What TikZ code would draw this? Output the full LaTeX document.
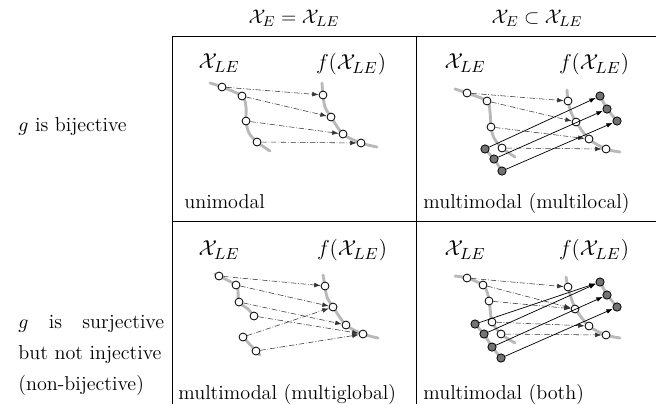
\documentclass[tikz,border=0pt]{standalone}
\usetikzlibrary{arrows.meta}
\begin{document}
\begin{tikzpicture}[x=0.5556pt,y=-0.5556pt,
  every node/.style={font=\fontsize{11.2pt}{13.5pt}\selectfont},
  tab/.style={line width=0.45pt},
  curve/.style={line width=1.6pt, gray!55, line cap=round, line join=round},
  wc/.style={circle, draw=black, fill=white, line width=0.45pt, inner sep=0pt, minimum size=4.4pt},
  gc/.style={circle, draw=black, fill=black!55, line width=0.45pt, inner sep=0pt, minimum size=4.6pt},
  da/.style={densely dash dot, line width=0.3pt, black!80, -{Latex[length=3.6pt,width=2.6pt]}},
  sa/.style={line width=0.4pt, black, -{Latex[length=3.6pt,width=2.6pt]}},
  lab/.style={font=\fontsize{13.2pt}{15pt}\selectfont, inner sep=0pt},
  txt/.style={anchor=base west, inner sep=0pt}
]
\useasboundingbox (0,0) rectangle (656,404);
% table
\draw[tab] (172,36) -- (656,36);
\draw[tab] (172,221) -- (656,221);
\draw[tab] (172,36) -- (172,404);
\draw[tab] (416,36) -- (416,404);
% headers
\node[anchor=base, inner sep=0pt] (h1) at (294,23) {$\mathcal{X}_E=\mathcal{X}_{LE}$};
\node[anchor=base, inner sep=0pt] (h2) at (537,23) {$\mathcal{X}_E\subset\mathcal{X}_{LE}$};
% row labels
\node[txt] (r1) at (18,131) {$g$ is bijective};
\node[txt] (r2a) at (18,328) {\makebox[81pt][s]{$g$ is surjective}};
\node[txt] (r2b) at (18,359) {but not injective};
\node[txt] (r2c) at (18,390) {(non-bijective)};
% cell labels
\node[txt] (t1) at (184,208) {unimodal};
\node[txt] (t2) at (423,208) {multimodal (multilocal)};
\node[txt] (t3) at (178,399) {multimodal (multiglobal)};
\node[txt] (t4) at (423,399) {multimodal (both)};

% ---------- cell 1 ----------
\node[lab] (a-x) at (219,63) {$\mathcal{X}_{LE}$};
\node[lab] (a-f) at (351,64) {$f(\mathcal{X}_{LE})$};
\draw[curve] plot[smooth] coordinates {(210,83) (222,87) (242,96) (246,107) (246,121) (249,133) (257,142) (270,151)};
\draw[curve] plot[smooth] coordinates {(322,83) (323,95) (325,107) (331,117) (343,134) (361,143) (377,147)};
\foreach \n/\x/\y in {1/222/87,2/242/96,3/246/121,4/257/142} \node[wc] (a-l\n) at (\x,\y) {};
\foreach \n/\x/\y in {1/323/95,2/331/117,3/343/134,4/361/143} \node[wc] (a-r\n) at (\x,\y) {};
\foreach \n in {1,2,3,4} \draw[da] (a-l\n) -- (a-r\n);

% ---------- cell 2 ----------
\node[lab] (b-x) at (465,63) {$\mathcal{X}_{LE}$};
\node[lab] (b-f) at (594,64) {$f(\mathcal{X}_{LE})$};
\draw[curve] plot[smooth] coordinates {(455,89) (467,93) (487,101) (490,112) (491,127) (494,138) (502,148) (515,157)};
\draw[curve] plot[smooth] coordinates {(567,90) (568,101) (571,112) (576,122) (589,139) (606,149) (620,152)};
\draw[curve] (485,149) -- (494,159) -- (502,171);
\draw[curve] (600,96) -- (607,109) -- (617,121);
\foreach \n/\x/\y in {1/467/93,2/487/101,3/491/127,4/502/148} \node[wc] (b-l\n) at (\x,\y) {};
\foreach \n/\x/\y in {1/568/101,2/576/122,3/589/139,4/606/149} \node[wc] (b-r\n) at (\x,\y) {};
\foreach \n/\x/\y in {1/485/149,2/494/159,3/502/171} \node[gc] (b-g\n) at (\x,\y) {};
\foreach \n/\x/\y in {1/600/96,2/607/109,3/617/121} \node[gc] (b-h\n) at (\x,\y) {};
\foreach \n in {1,2,3,4} \draw[da] (b-l\n) -- (b-r\n);
\foreach \n in {1,2,3} \draw[sa] (b-g\n) -- (b-h\n);

% ---------- cell 3 ----------
\node[lab] (c-x) at (219,250) {$\mathcal{X}_{LE}$};
\node[lab] (c-f) at (352,250) {$f(\mathcal{X}_{LE})$};
\draw[curve] plot[smooth] coordinates {(215,274) (219,276) (236,285) (238,292) (239,302) (248,309) (254,316)};
\draw[curve] plot[smooth] coordinates {(243,337) (256,351) (260,355)};
\draw[curve] plot[smooth] coordinates {(323,275) (325,286) (327,297) (333,307) (346,325) (363,334) (378,338)};
\foreach \n/\x/\y in {1/219/276,2/236/285,3/239/302,4/254/316,5/243/337,6/256/351} \node[wc] (c-l\n) at (\x,\y) {};
\foreach \n/\x/\y in {1/325/286,2/333/307,3/346/325,4/363/334} \node[wc] (c-r\n) at (\x,\y) {};
\foreach \a/\b in {1/1,2/2,3/3,4/4,5/2,6/4} \draw[da] (c-l\a) -- (c-r\b);

% ---------- cell 4 ----------
\node[lab] (d-x) at (465,250) {$\mathcal{X}_{LE}$};
\node[lab] (d-f) at (594,250) {$f(\mathcal{X}_{LE})$};
\draw[curve] plot[smooth] coordinates {(455,276) (467,278) (483,285) (488,295) (490,308) (492,322) (501,334) (515,343)};
\draw[curve] plot[smooth] coordinates {(566,277) (568,287) (575,308) (589,326) (606,335) (620,338)};
\draw[curve] (475,324) -- (484,334) -- (492,347) -- (501,358);
\draw[curve] (600,282) -- (607,295) -- (617,307);
\foreach \n/\x/\y in {1/467/278,2/483/285,3/489/301,4/492/322,5/501/334} \node[wc] (d-l\n) at (\x,\y) {};
\foreach \n/\x/\y in {1/568/287,2/575/309,3/589/326,4/606/335} \node[wc] (d-r\n) at (\x,\y) {};
\foreach \n/\x/\y in {1/475/324,2/484/334,3/492/347,4/501/358} \node[gc] (d-g\n) at (\x,\y) {};
\foreach \n/\x/\y in {1/600/282,2/607/295,3/617/307} \node[gc] (d-h\n) at (\x,\y) {};
\foreach \a/\b in {1/1,2/2,3/2,4/3,5/4} \draw[da] (d-l\a) -- (d-r\b);
\foreach \a/\b in {1/1,2/1,3/2,4/3} \draw[sa] (d-g\a) -- (d-h\b);
\end{tikzpicture}
\end{document}
